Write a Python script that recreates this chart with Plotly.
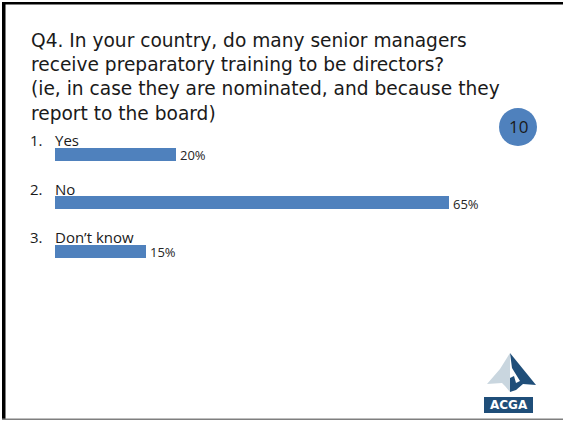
import plotly.graph_objects as go

# Survey responses
numbers = ["1.", "2.", "3."]
answers = ["Yes", "No", "Don\u2019t know"]
shares = [20, 65, 15]
question_lines = [
    "Q4. In your country, do many senior managers",
    "receive preparatory training to be directors?",
    "(ie, in case they are nominated, and because they",
    "report to the board)",
]
respondents = "10"

W, H = 563, 422
FONT = "Open Sans"
TITLE_FONT = "DejaVu Sans"
BAR = "#4F81BD"


def px(x):
    return x / W


def py(y):
    return 1 - y / H


fig = go.Figure()
fig.add_trace(go.Bar(
    x=shares,
    y=answers,
    orientation="h",
    marker=dict(color=BAR, line=dict(width=0)),
    width=0.27,
    hoverinfo="skip",
))

annotations = []
# question text as one wrapped block
annotations.append(dict(
    xref="paper", yref="paper", x=px(29), y=py(77.5),
    xanchor="left", yanchor="middle", align="left",
    text="<br>".join(question_lines), showarrow=False,
    font=dict(family=TITLE_FONT, size=18.6, color="#1a1a1a"),
))
# numbered answer labels above each bar, value labels after each bar
for num, ans, val in zip(numbers, answers, shares):
    annotations.append(dict(
        xref="x", yref="y", x=0, y=ans, xanchor="left", yanchor="middle",
        yshift=14, xshift=-2, text=ans, showarrow=False,
        font=dict(family=FONT, size=15, color="#1a1a1a"),
    ))
    annotations.append(dict(
        xref="x", yref="y", x=0, y=ans, xanchor="left", yanchor="middle",
        yshift=14, xshift=-27, text=num, showarrow=False,
        font=dict(family=FONT, size=15, color="#1a1a1a"),
    ))
    annotations.append(dict(
        xref="x", yref="y", x=val, y=ans, xanchor="left", yanchor="middle",
        xshift=2, yshift=-1, text=f"{val}%", showarrow=False,
        font=dict(family=FONT, size=13, color="#262626"),
    ))
# respondent count badge
annotations.append(dict(
    xref="paper", yref="paper", x=px(518), y=py(127), xanchor="center",
    yanchor="middle", text=respondents, showarrow=False,
    font=dict(family=FONT, size=17, color="#1a1a1a"),
))
# logo wordmark
annotations.append(dict(
    xref="paper", yref="paper", x=px(508.5), y=py(405), xanchor="center",
    yanchor="middle", text="<b>ACGA</b>", showarrow=False,
    font=dict(family="DejaVu Sans", size=12, color="white"),
))


def path(points):
    return "M " + " L ".join(f"{px(x)},{py(y)}" for x, y in points) + " Z"


shapes = [
    # slide frame
    dict(type="rect", xref="paper", yref="paper", x0=px(2), x1=px(5.5),
         y0=py(420), y1=py(2), fillcolor="black", line=dict(width=0)),
    dict(type="rect", xref="paper", yref="paper", x0=px(2), x1=px(563),
         y0=py(4.5), y1=py(2), fillcolor="black", line=dict(width=0)),
    dict(type="rect", xref="paper", yref="paper", x0=px(2), x1=px(563),
         y0=py(420), y1=py(418.5), fillcolor="#7f7f7f", line=dict(width=0)),
    # badge circle
    dict(type="circle", xref="paper", yref="paper", x0=px(499), x1=px(537),
         y0=py(146), y1=py(108), fillcolor=BAR, line=dict(width=0)),
    # logo: light half of the arrow
    dict(type="path", xref="paper", yref="paper",
         path=path([(510, 353), (510, 392), (505, 386), (502, 383),
                    (487, 384), (500, 369)]),
         fillcolor="#c9d6df", line=dict(width=0)),
    # logo: dark half of the arrow
    dict(type="path", xref="paper", yref="paper",
         path=path([(510, 353), (536, 385), (523, 384), (516, 390),
                    (510, 392), (510, 378), (514, 376), (516, 383),
                    (520, 381), (512, 368)]),
         fillcolor="#1f4e79", line=dict(width=0)),
    # logo: wordmark box
    dict(type="rect", xref="paper", yref="paper", x0=px(484), x1=px(533),
         y0=py(413), y1=py(397), fillcolor="#1f4e79", line=dict(width=0)),
]

fig.update_layout(
    width=W, height=H,
    margin=dict(l=0, r=0, t=0, b=0),
    paper_bgcolor="white", plot_bgcolor="white",
    showlegend=False,
    bargap=0,
    xaxis=dict(domain=[px(55), px(479)], range=[0, 70], visible=False,
               fixedrange=True),
    yaxis=dict(domain=[py(275.5), py(130)], range=[2.5, -0.5],
               visible=False, fixedrange=True),
    annotations=annotations,
    shapes=shapes,
)

fig.write_html("out.html", config={"displayModeBar": False})
